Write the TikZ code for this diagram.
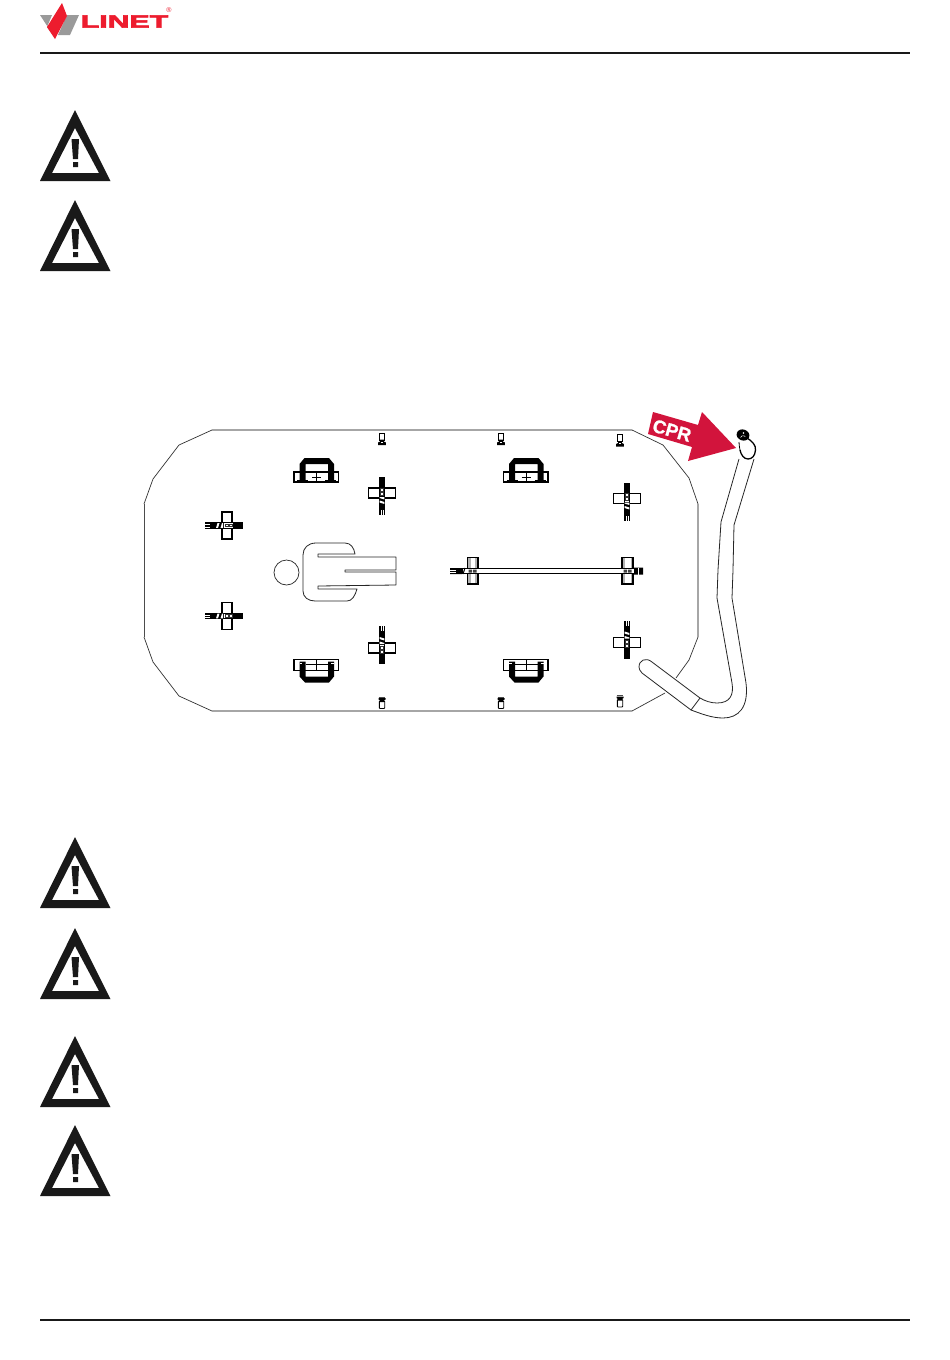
\documentclass[tikz,border=0pt]{standalone}
\usepackage{fontspec}
\setmainfont{Liberation Sans}
\newfontfamily\logofont[BoldFeatures={FakeBold=3}]{Liberation Sans}
\newfontfamily\cprfont[BoldFeatures={FakeBold=1.2}]{Liberation Sans}
\definecolor{linetred}{HTML}{ED1C2E}
\definecolor{linetgray}{HTML}{9A9A9A}
\definecolor{cprred}{HTML}{D2143C}
\definecolor{edgegray}{HTML}{A6A6A6}
\tikzset{
  rule/.style={line width=1.6pt,draw=black!90},
  bedstraight/.style={line width=1.3pt,draw=edgegray},
  beddiag/.style={line width=0.7pt,draw=black!80},
  outline/.style={line width=0.8pt,draw=black!85,line join=round},
  pad/.style={line width=1.7pt,draw=black,fill=white},
  barpad/.style={line width=1.3pt,draw=black,fill=black!30}
}
\newcommand{\warntri}[1]{%
  \begin{scope}[yshift=-#1 pt]
    \fill[black!90,even odd rule] (75,110)--(110.5,181)--(40,181)--cycle (75,128)--(52,173)--(99,173)--cycle;
    \fill[black!90] (71.5,139)--(79,139)--(78,159)--(73,159)--cycle (73,162) rectangle (78,167);
  \end{scope}}
% cross pad: local x runs along the strap
\newcommand{\crosspad}[3]{%
  \begin{scope}[shift={(#1,#2)},rotate=#3]
    \draw[pad] (-5,-13.5) rectangle (5,13.5);
    \fill[black] (-22,-3.2) rectangle (16,3.2);
    \draw[white,line width=.4pt] (-22,-1.2) -- (-17,-1.2) (-22,1.2) -- (-17,1.2);
    \fill[white] (-11,2.4)--(-9.5,-2.4)--(-7.5,-2.4)--(-9,2.4)--cycle;
    \fill[white] (-6.5,2.4)--(-5,-2.4)--(-4,-2.4)--(-4,2.4)--cycle;
    \fill[white] (-3,-2.3) rectangle (5.5,2.3);
    \draw[black!80,line width=.8pt] (-2,-1.3) rectangle (1,1.3) (2,-1.3) rectangle (5,1.3);
  \end{scope}}
\newcommand{\handleup}[2]{%
  \draw[line width=1.7pt] (#1,#2) rectangle (#1+44.5,#2+10);
  \fill[black] (#1+5.5,#2+8.5)--(#1+5.5,#2-8)--(#1+10.5,#2-14)--(#1+35,#2-14)--(#1+40,#2-8)--(#1+40,#2+8.5)--(#1+34,#2+8.5)--(#1+34,#2-8)--(#1+11.5,#2-8)--(#1+11.5,#2+8.5)--cycle;
  \draw[line width=.8pt] (#1+18,#2+5)--(#1+27,#2+5) (#1+22.5,#2+1)--(#1+22.5,#2+9)
    (#1+3,#2+8)--(#1+14,#2+8) (#1+31,#2+8)--(#1+42,#2+8);}
\newcommand{\handledown}[2]{%
  \draw[line width=1.7pt] (#1,#2) rectangle (#1+44.5,#2+11);
  \fill[black] (#1+5.5,#2+2)--(#1+5.5,#2+17)--(#1+11,#2+23)--(#1+35,#2+23)--(#1+40,#2+17)--(#1+40,#2+2)--(#1+34,#2+2)--(#1+34,#2+17)--(#1+11.5,#2+17)--(#1+11.5,#2+2)--cycle;
  \draw[line width=.8pt] (#1+22.5,#2)--(#1+22.5,#2+11) (#1+11.5,#2+5)--(#1+34,#2+5);
  \draw[white,line width=.6pt] (#1+5.5,#2+4)--(#1+8,#2+4) (#1+37,#2+4)--(#1+40,#2+4);}
\newcommand{\clipup}[2]{%
  \draw[line width=.9pt] (#1-2.7,#2) rectangle (#1+2.7,#2+7);
  \fill[black] (#1-1.8,#2+6.5)--(#1+1.8,#2+6.5)--(#1+1.8,#2+8.5)--(#1+3.8,#2+9.5)--(#1+3.8,#2+12)--(#1-3.8,#2+12)--(#1-3.8,#2+9.5)--(#1-1.8,#2+8.5)--cycle;
  \draw[white,line width=.4pt] (#1-1,#2+9)--(#1+1,#2+9);}
\newcommand{\clipdown}[2]{%
  \fill[black] (#1-3.5,#2+1)--(#1+3.5,#2+1)--(#1+3.5,#2+2.5)--(#1+2,#2+3.5)--(#1+2,#2+5)--(#1-2,#2+5)--(#1-2,#2+3.5)--(#1-3.5,#2+2.5)--cycle;
  \draw[line width=.8pt,draw=black!70] (#1-3.3,#2+.3)--(#1+3.3,#2+.3);
  \draw[line width=.9pt,rounded corners=.8pt] (#1-2.7,#2+4) rectangle (#1+2.7,#2+11.5);}
\begin{document}
\begin{tikzpicture}[x=1pt,y=-1pt]
\useasboundingbox (0,0) rectangle (950,1360);
\fill[white] (0,0) rectangle (950,1360);
% logo
\fill[linetgray] (40,15)--(52,15)--(47,27)--(55,38)--cycle;
\fill[linetgray] (67,15)--(79,15)--(70,35)--(58,35)--cycle;
\fill[linetred] (62,3)--(67,16)--(55,39)--(47,27)--cycle;
\node[anchor=center,text=linetred,font=\logofont\bfseries\fontsize{18}{18}\selectfont,xscale=1.68,inner sep=0] (logotext) at (124.5,21.5) {LINET};
\node[text=linetred,font=\fontsize{7}{7}\selectfont,inner sep=0] (logomark) at (169,10.5) {®};
% page rules
\draw[rule] (40,53) -- (910,53);
\draw[rule] (40,1320) -- (910,1320);
% warning triangles
\warntri{0}\warntri{90}\warntri{727}\warntri{818}\warntri{926}\warntri{1015}
% mattress outline
\draw[beddiag] (212,430)--(179,445)--(153,479)--(144,504);
\draw[beddiag] (144,637)--(153,662)--(179,696)--(212,711);
\draw[beddiag] (632,711)--(665,693);
\draw[beddiag] (676,678)--(689,660)--(698,637);
\draw[beddiag] (698,504)--(689,478)--(663,445)--(632,430);
\draw[bedstraight] (212,430)--(632,430);
\draw[bedstraight] (212,711)--(632,711);
\draw[bedstraight] (698,504)--(698,637);
\draw[line width=.7pt,draw=black!70] (144,504)--(144,637);
% cross pads
\crosspad{227}{525.5}{0}
\crosspad{227}{616}{0}
\crosspad{382}{493}{90}
\crosspad{382}{648}{-90}
\crosspad{627}{498.5}{90}
\crosspad{627}{642.5}{-90}
% handles
\handleup{294}{472}
\handleup{503.5}{472}
\handledown{294}{659.5}
\handledown{503.5}{659.5}
% small clips
\clipup{382}{433}\clipup{501}{433}\clipup{620}{434.5}
\clipdown{382}{697}\clipdown{501}{697}\clipdown{620}{695.5}
% patient head and body
\draw[outline,line width=.7pt] (286.5,572.5) circle (12.5);
\draw[outline] (345,570)--(396,570)--(396,557)--(318,557)--(318,554)--(355,554)
  .. controls (354,548) and (351,543) .. (345,543)--(316,543)
  .. controls (308,543) and (303,548) .. (303,555)--(303,591)
  .. controls (303,597) and (308,601) .. (315,601)--(347,601)
  .. controls (352,601) and (355,596) .. (357,589)--(318,589)--(318,586)--(396,585)--(396,572)--(345,572)--cycle;
% transfer bar
\draw[barpad] (467.5,557.5) rectangle (478,584);
\fill[white] (470.5,558.2) rectangle (475,583.3);
\draw[barpad] (622,557.5) rectangle (633,584);
\fill[white] (624.5,558.2) rectangle (630.5,583.3);
\draw[line width=1pt,fill=white] (462,568)--(635,568)--(635,573.5)--(462,573.5)--cycle;
\fill[black] (450,568) rectangle (462,574) (634,567.5) rectangle (643,574.5);
\draw[white,line width=.4pt] (450,570)--(456,570) (450,572)--(456,572) (638,567.5)--(638,574.5);
\draw[line width=1pt] (463,574)--(465,568);
\fill[black!75] (468.5,569.5) rectangle (472,572.5) (473,569.5) rectangle (476.5,572.5) (623.5,569.5) rectangle (627,572.5) (628,569.5) rectangle (631.5,572.5);
% tube
\draw[outline] (739,459)--(721,522)--(718,570)--(717,598)--(732,683)
  .. controls (734,695) and (730,703) .. (717,703)
  .. controls (711,703) and (705,701) .. (700,698);
\draw[outline] (700,698)--(652,662)
  .. controls (646,657) and (639,660) .. (639,667)
  .. controls (639,669) and (640,671) .. (642,673)--(691,710);
\draw[outline] (691,710) .. controls (702,714) and (712,718) .. (723,718)
  .. controls (738,718) and (749,708) .. (746,683)
  --(732,598)--(733,570)--(734,525)--(754,459);
\draw[outline] (700,698)--(691,710);
% tube head
\draw[line width=1.3pt,draw=black,line join=round] (747,438)
  .. controls (752,441) and (756,445) .. (755.5,450)
  .. controls (755,456) and (752,459) .. (748,459)
  .. controls (744,459) and (741,455) .. (740,450);
\draw[line width=.8pt,draw=black] (740,450) .. controls (739.5,447) and (739,445) .. (739,442);
\fill[black,rotate around={-20:(743,435)}] (743,435) ellipse [x radius=6.5,y radius=5.5];
\draw[white,line width=.5pt] (740.5,437.5) arc (200:320:2.8);
\fill[white] (743.5,433) circle (.8);
% CPR arrow
\fill[cprred] (653,412)--(698,425)--(702,412)--(736,448)--(688,461)--(692,447)--(648,434)--cycle;
\node[text=white,font=\cprfont\bfseries\fontsize{18.5}{18.5}\selectfont,rotate=-16,inner sep=0] (cprlabel) at (672,430.5) {CPR};
\end{tikzpicture}
\end{document}
